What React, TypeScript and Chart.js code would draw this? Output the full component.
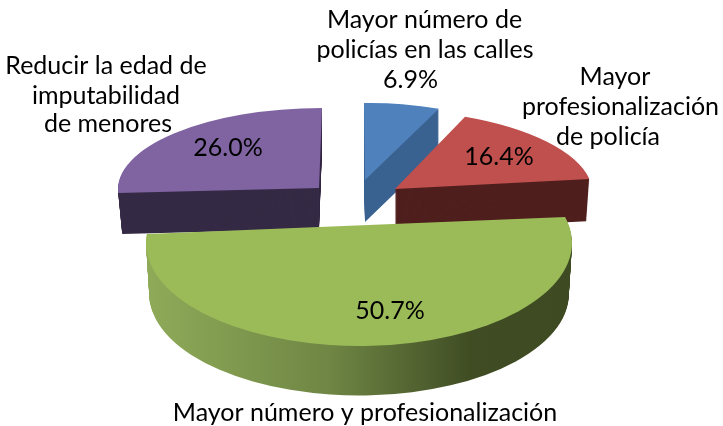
import { useEffect, useRef } from "react";
import { Chart, registerables } from "chart.js";

Chart.register(...registerables);

const categories = [
  "Mayor número de policías en las calles",
  "Mayor profesionalización de policía",
  "Mayor número y profesionalización",
  "Reducir la edad de imputabilidad de menores",
];
const shares = [6.9, 16.4, 50.7, 26.0];
const faceColors = ["#4f81bd", "#c0504d", "#9bbb59", "#8064a2"];
const wallColors = ["#3a6290", "#4f1f1e", "", "#352a45"];

// Projection of each exploded slice onto the page: apex, x-axis, y-axis, wall
const apexes = [[365, 180], [395, 189], [357.3, 228], [319, 188]];
const axesU = [[178, -3], [197, -1.6], [212.6, 1.7], [201, 0]];
const axesV = [[1, 77], [14, 79], [15, 118], [-3, 80]];
const wallDepths = [42, 42, 51, 41];
const wallShrink = [1, 0.985, 0.985, 0.98];
const drawOrder = [0, 3, 1, 2];

// The big front slice is seen in perspective: the ellipse centre sits below its chord
const FRONT_SLICE = 2;
const frontCentre = [359, 243];
const frontRadii = [213, 103];
const frontAngleShift = [-8.5, 8.6];

const FONT = "Lato, Carlito, sans-serif";
const captionSize = 25;
const captions: [string, number, number][] = [
  ["Mayor número de", 424.5, 20],
  ["policías en las calles", 425, 50],
  ["Mayor", 615, 77],
  ["profesionalización", 620.5, 107],
  ["de policía", 608, 137],
  ["Reducir la edad de", 106, 66],
  ["imputabilidad", 106, 96],
  ["de menores", 108, 124],
  ["Mayor número y profesionalización", 365, 413],
];
const valuePositions = [[410.5, 80], [499, 157], [390, 311], [228, 148]];

const projected = (ctx: CanvasRenderingContext2D, el: any, i: number, dy = 0, k = 1) => {
  const R = el.outerRadius;
  const [ax, ay] = apexes[i];
  const [ux, uy] = axesU[i];
  const [vx, vy] = axesV[i];
  const a = (ux * k) / R, b = (uy * k) / R, c = (vx * k) / R, d = (vy * k) / R;
  ctx.setTransform(a, b, c, d, ax - a * el.x - c * el.y, ay + dy - b * el.x - d * el.y);
};

const frontPath = (ctx: CanvasRenderingContext2D, el: any, dy = 0, k = 1) => {
  const rad = Math.PI / 180;
  ctx.beginPath();
  ctx.ellipse(
    frontCentre[0],
    frontCentre[1] + dy,
    frontRadii[0] * k,
    frontRadii[1] * k,
    0,
    el.startAngle + frontAngleShift[0] * rad,
    el.endAngle + frontAngleShift[1] * rad
  );
  ctx.closePath();
};

const wallFill = (ctx: CanvasRenderingContext2D, i: number) => {
  if (wallColors[i]) return wallColors[i];
  const g = ctx.createLinearGradient(146, 0, 572, 0);
  g.addColorStop(0, "#8fab59");
  g.addColorStop(0.43, "#6f8644");
  g.addColorStop(0.76, "#404d24");
  g.addColorStop(1, "#3d4a22");
  return g;
};

const pie3d = {
  id: "pie3d",
  beforeDatasetDraw(chart: any) {
    const { ctx } = chart;
    const arcs = chart.getDatasetMeta(0).data;
    drawOrder.forEach((i) => {
      const el = arcs[i];
      const fill = wallFill(ctx, i);
      for (let d = wallDepths[i]; d >= 1; d--) {
        const k = 1 - (d / wallDepths[i]) * (1 - wallShrink[i]);
        ctx.save();
        if (i === FRONT_SLICE) {
          frontPath(ctx, el, d, k);
        } else {
          projected(ctx, el, i, d, k);
          ctx.beginPath();
          ctx.moveTo(el.x, el.y);
          ctx.arc(el.x, el.y, el.outerRadius, el.startAngle, el.endAngle);
          ctx.closePath();
          ctx.setTransform(1, 0, 0, 1, 0, 0);
        }
        ctx.fillStyle = fill;
        ctx.fill();
        ctx.restore();
      }
      ctx.save();
      if (i === FRONT_SLICE) {
        frontPath(ctx, el);
        ctx.fillStyle = faceColors[i];
        ctx.fill();
      } else {
        projected(ctx, el, i);
        el.draw(ctx);
      }
      ctx.restore();
    });
    return false;
  },
  afterDraw(chart: any) {
    const { ctx } = chart;
    ctx.save();
    ctx.fillStyle = "#000";
    ctx.textAlign = "center";
    ctx.textBaseline = "middle";
    ctx.font = `${captionSize}px ${FONT}`;
    captions.forEach(([t, x, y]) => ctx.fillText(t, x, y));
    shares.forEach((v, i) => {
      const [x, y] = valuePositions[i];
      ctx.fillText(`${v.toFixed(1)}%`, x, y);
    });
    ctx.restore();
  },
};

export default function App() {
  const ref = useRef<HTMLCanvasElement>(null);
  useEffect(() => {
    document.body.style.margin = "0";
    const chart = new Chart(ref.current!, {
      type: "pie",
      data: {
        labels: categories,
        datasets: [{ data: shares, backgroundColor: faceColors, borderWidth: 0 }],
      },
      options: {
        responsive: false,
        animation: false,
        rotation: 0,
        plugins: { legend: { display: false }, tooltip: { enabled: false } },
      },
      plugins: [pie3d],
    } as any);
    return () => chart.destroy();
  }, []);
  return <canvas ref={ref} width={723} height={426} style={{ display: "block", background: "#fff" }} />;
}
